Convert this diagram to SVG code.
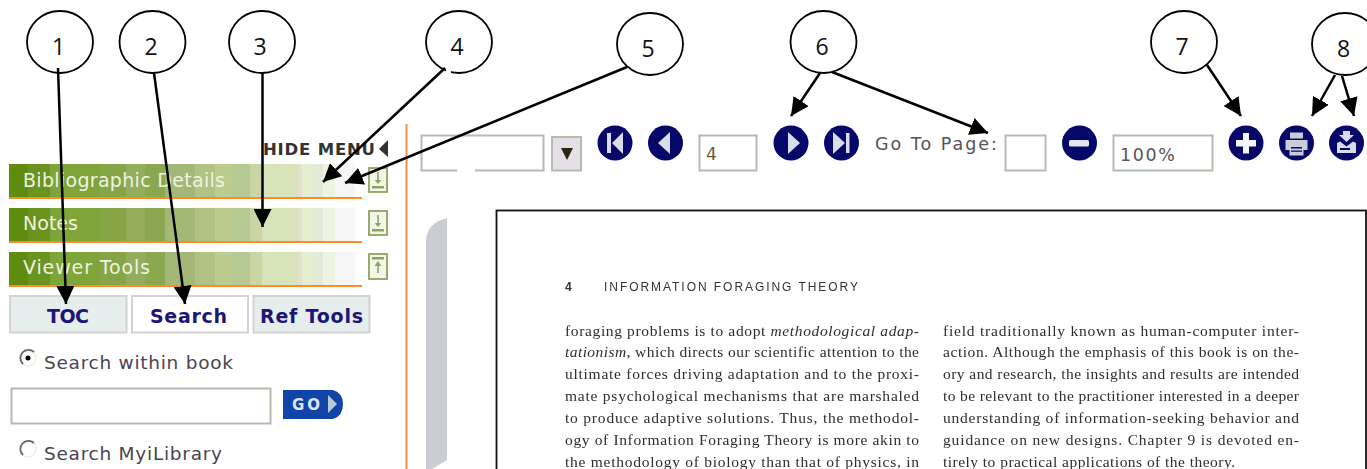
<svg xmlns="http://www.w3.org/2000/svg" width="1367" height="469" viewBox="0 0 1367 469">
<style>
.c{fill:#fff;stroke:#000;stroke-width:1.8}
.n{font:23px "Open Sans","Noto Sans",sans-serif;fill:#111;text-anchor:middle}
.l{stroke:#000;stroke-width:2.5;fill:none}
.bar{font:19px "DejaVu Sans",Verdana,sans-serif;fill:#eef3e2}
.tab{font:bold 19px "DejaVu Sans",Verdana,sans-serif;fill:#1d1577;text-anchor:start}
.ui{font:18.500px "DejaVu Sans",Verdana,sans-serif;fill:#4a4450}
.ui2{font:17.500px "DejaVu Sans",Verdana,sans-serif;fill:#5a5258}
.box{fill:#fff;stroke:#b4bcb0;stroke-width:2}
.pg{font:15.500px "Liberation Serif",serif;fill:#2e2e2e;filter:url(#soft)}
.btn{fill:#07076a}
.w{fill:#d8dcec}
.ico{fill:#f3f6e9;stroke:#8fa35e;stroke-width:1.8}
.ar{fill:#8fa35e}
</style>
<defs>
<filter id="soft" x="-2%" y="-2%" width="104%" height="104%"><feGaussianBlur stdDeviation="0.35"/></filter>
<pattern id="g" patternUnits="userSpaceOnUse" x="0" y="0" width="360" height="300">
<rect x="0" width="28" height="300" fill="#5f8c0e"/>
<rect x="28" width="22" height="300" fill="#6a9320"/>
<rect x="50" width="50" height="300" fill="#7fa43a"/>
<rect x="100" width="26" height="300" fill="#86a547"/>
<rect x="126" width="19" height="300" fill="#93ad5c"/>
<rect x="145" width="20" height="300" fill="#8aa84f"/>
<rect x="165" width="30" height="300" fill="#a3b877"/>
<rect x="195" width="20" height="300" fill="#b0c284"/>
<rect x="215" width="17" height="300" fill="#bccc8f"/>
<rect x="232" width="18" height="300" fill="#b8ca94"/>
<rect x="250" width="12" height="300" fill="#cad4a4"/>
<rect x="262" width="36" height="300" fill="#d7e4ba"/>
<rect x="298" width="4" height="300" fill="#e7ddd0"/>
<rect x="302" width="11" height="300" fill="#e6eecf"/>
<rect x="313" width="10" height="300" fill="#e3ead9"/>
<rect x="323" width="12" height="300" fill="#eef5de"/>
<rect x="335" width="25" height="300" fill="#f6f6f6"/>
</pattern>
<marker id="ah" markerWidth="18" markerHeight="18" refX="18" refY="9" orient="auto" markerUnits="userSpaceOnUse"><path d="M0 0L18 9L0 18z"/></marker>
</defs>
<rect width="1367" height="469" fill="#fff"/>

<g id="sidebar">
<text x="263" y="155" font-family="DejaVu Sans" font-weight="bold" font-size="16.500" fill="#333" textLength="112">HIDE MENU</text>
<path d="M388 140V157L379 149z" fill="#333"/>
<rect x="9" y="164" width="346" height="33" fill="url(#g)"/><rect x="9" y="197" width="353" height="2" fill="#ff8a2a"/>
<text x="23" y="187" class="bar" textLength="202">Bibliographic Details</text>
<rect x="9" y="208" width="346" height="33" fill="url(#g)"/><rect x="9" y="241" width="353" height="2" fill="#ff8a2a"/>
<text x="23" y="230" class="bar" textLength="55">Notes</text>
<rect x="9" y="252" width="346" height="33" fill="url(#g)"/><rect x="9" y="285" width="353" height="2" fill="#ff8a2a"/>
<text x="23" y="274" class="bar" textLength="127">Viewer Tools</text>
<g><rect x="369" y="168" width="18" height="24" class="ico"/><path d="M377.200 172h1.600v8h2.500l-3.300 4-3.300-4h2.500zM372 186h12v2.500h-12z" class="ar"/></g>
<g><rect x="369" y="211" width="18" height="24" class="ico"/><path d="M377.200 215h1.600v8h2.500l-3.300 4-3.300-4h2.500zM372 229h12v2.500h-12z" class="ar"/></g>
<g><rect x="369" y="254" width="18" height="25" class="ico"/><path d="M372 257h12v2.500h-12zM378 261l3.500 5h-2.700v7h-1.600v-7h-2.700z" class="ar"/></g>
<rect x="405.500" y="124" width="2" height="345" fill="#ff8f3c"/>
</g>
<g id="tabs">
<rect x="10" y="296" width="116.500" height="36.500" fill="#e6eeed" stroke="#d5d2d2" stroke-width="2"/><text x="47" y="323" class="tab" textLength="42">TOC</text>
<rect x="132" y="296" width="116" height="36.500" fill="#fff" stroke="#d5d2d2" stroke-width="2"/><text x="150" y="323" class="tab" textLength="77">Search</text>
<rect x="253.500" y="296" width="116" height="36.500" fill="#e6eeed" stroke="#d5d2d2" stroke-width="2"/><text x="260" y="323" class="tab" textLength="103">Ref Tools</text>
</g>
<g id="search">
<circle cx="28" cy="358" r="8" fill="#fff" stroke="#eef2e6" stroke-width="1.500"/><path d="M23 364A8 8 0 0 1 34 352" fill="none" stroke="#666" stroke-width="1.800"/><circle cx="28" cy="358" r="2.500" fill="#000"/>
<text x="44" y="369" class="ui" textLength="189">Search within book</text>
<rect x="11.500" y="388.500" width="259" height="35" class="box"/>
<path d="M283 390H333Q343 393 343 404Q343 416 333 419H283z" fill="#1144a8"/>
<text x="292" y="410" font-family="DejaVu Sans" font-weight="bold" font-size="15" fill="#dfe6f2" textLength="28">GO</text>
<path d="M328 395L337 404L328 413z" fill="#b9cbd6"/>
<circle cx="28" cy="449" r="8" fill="#fff" stroke="#eef2e6" stroke-width="1.500"/><path d="M23 455A8 8 0 0 1 34 443" fill="none" stroke="#666" stroke-width="1.800"/>
<text x="44" y="460" class="ui" textLength="178">Search MyiLibrary</text>
</g>
<g id="toolbar">
<rect x="421.500" y="135.500" width="122" height="35" class="box"/>
<rect x="457" y="169" width="18" height="3" fill="#fff"/>
<rect x="552" y="137" width="29" height="33.500" fill="#e7dfe7" stroke="#b4bcb0" stroke-width="2"/>
<path d="M561 148H573L567 160z" fill="#2e2410"/>
<g><circle cx="615" cy="143" r="17.500" class="btn"/><path d="M607 133h4v20h-4zM623 132V154L612 143z" class="w"/></g>
<g><circle cx="665.500" cy="143" r="17.500" class="btn"/><path d="M670 132V154L658 143z" class="w"/></g>
<rect x="699.500" y="135.500" width="57" height="35" class="box"/>
<text x="706" y="160" font-family="DejaVu Sans" font-size="17" fill="#6b5a30">4</text>
<g><circle cx="791" cy="143" r="17.500" class="btn"/><path d="M788 132V154L800 143z" class="w"/></g>
<g><circle cx="841.500" cy="143" r="17.500" class="btn"/><path d="M833 132V154L845 143zM846 133h3.500v20h-3.500z" class="w"/></g>
<text x="875" y="150" class="ui2" textLength="122">Go To Page:</text>
<rect x="1005.500" y="135.500" width="40" height="35" class="box"/>
<g><circle cx="1079.500" cy="143" r="17.500" class="btn"/><rect x="1069" y="140" width="20" height="6.500" rx="1.500" fill="#e4e6ee"/></g>
<rect x="1113.500" y="135.500" width="99" height="35" class="box"/>
<text x="1120" y="161" class="ui2" textLength="55">100%</text>
<g><circle cx="1246" cy="143" r="17.500" class="btn"/><path d="M1243 133h6v7h7v6.500h-7v7h-6v-7h-7v-6.500h7z" fill="#f2f4f6"/></g>
<g><circle cx="1296.500" cy="143" r="17.500" class="btn"/><path d="M1290 132.500h13v6h-13zM1285.500 140h22v10h-4v5.500h-14v-5.500h-4z" fill="#c9cdda"/><path d="M1291 147h11v1.500h-11zM1291 150.500h11v1.200h-11z" fill="#07076a"/></g>
<g><circle cx="1346.500" cy="143" r="17.500" class="btn"/><path d="M1343 131h7v4h4l-7.500 7-7.500-7h4zM1337 143l3-1.500 6.500 5 6.500-5 3 1.500v10h-19z" fill="#d8dcea"/><rect x="1340" y="148" width="10" height="2" fill="#07076a"/></g>
</g>
<g id="page">
<path d="M447 218V469H426V240Q427 223 447 218z" fill="#cbccd4"/>
<path d="M447 460V469H432z" fill="#fff"/>
<rect x="496.500" y="210.500" width="869.500" height="270" fill="#fff" stroke="#111" stroke-width="1.800"/>
<text x="565" y="290.500" font-family="Liberation Sans" font-weight="bold" font-size="12" fill="#333" filter="url(#soft)">4</text>
<text x="604" y="290.500" font-family="Liberation Sans" font-size="12" fill="#333" textLength="254" filter="url(#soft)">INFORMATION FORAGING THEORY</text>
<g class="pg">
<text x="565" y="336" textLength="354"><tspan>foraging problems is to adopt </tspan><tspan font-style="italic">methodological adap-</tspan></text>
<text x="565" y="357" textLength="354"><tspan font-style="italic">tationism</tspan><tspan>, which directs our scientific attention to the</tspan></text>
<text x="565" y="379" textLength="354">ultimate forces driving adaptation and to the proxi-</text>
<text x="565" y="401" textLength="354">mate psychological mechanisms that are marshaled</text>
<text x="565" y="423" textLength="354">to produce adaptive solutions. Thus, the methodol-</text>
<text x="565" y="445" textLength="354">ogy of Information Foraging Theory is more akin to</text>
<text x="565" y="467" textLength="354">the methodology of biology than that of physics, in</text>
<text x="943" y="336" textLength="356">field traditionally known as human-computer inter-</text>
<text x="943" y="357" textLength="356">action. Although the emphasis of this book is on the-</text>
<text x="943" y="379" textLength="356">ory and research, the insights and results are intended</text>
<text x="943" y="401" textLength="356">to be relevant to the practitioner interested in a deeper</text>
<text x="943" y="423" textLength="356">understanding of information-seeking behavior and</text>
<text x="943" y="445" textLength="356">guidance on new designs. Chapter 9 is devoted en-</text>
<text x="943" y="467" textLength="292">tirely to practical applications of the theory.</text>
</g>
</g>
<g id="n1"><ellipse class="c" cx="60" cy="42" rx="33" ry="31"/><text class="n" x="58.500" y="55">1</text></g>
<g id="n2"><ellipse class="c" cx="152.500" cy="42" rx="33" ry="31"/><text class="n" x="151" y="55">2</text></g>
<g id="n3"><ellipse class="c" cx="262" cy="42" rx="33" ry="31"/><text class="n" x="260" y="55">3</text></g>
<g id="n4"><ellipse class="c" cx="459" cy="42" rx="33" ry="31"/><rect x="446" y="69" width="5" height="5" fill="#fff"/><text class="n" x="457" y="55">4</text></g>
<g id="n5"><ellipse class="c" cx="650" cy="44" rx="33" ry="31"/><text class="n" x="648" y="57">5</text></g>
<g id="n6"><ellipse class="c" cx="823.500" cy="42" rx="33" ry="31"/><text class="n" x="822" y="55">6</text></g>
<g id="n7"><ellipse class="c" cx="1184" cy="42" rx="33" ry="31"/><text class="n" x="1182" y="55">7</text></g>
<g id="n8"><ellipse class="c" cx="1345" cy="44" rx="33" ry="31"/><text class="n" x="1343.500" y="57">8</text></g>
<g id="connectors">
<path class="l" marker-end="url(#ah)" d="M58 68L66 304"/>
<path class="l" marker-end="url(#ah)" d="M154 73L185 304"/>
<path class="l" marker-end="url(#ah)" d="M262.500 73V227"/>
<path class="l" marker-end="url(#ah)" d="M445 68L323 182"/>
<path class="l" marker-end="url(#ah)" d="M627 67L345 183"/>
<path class="l" marker-end="url(#ah)" d="M820 73L791 116"/>
<path class="l" marker-end="url(#ah)" d="M832 72L988 133"/>
<path class="l" marker-end="url(#ah)" d="M1207 65L1241 116"/>
<path class="l" marker-end="url(#ah)" d="M1335 75L1312 116"/>
<path class="l" marker-end="url(#ah)" d="M1342 76L1354 116"/>
</g>
</svg>
